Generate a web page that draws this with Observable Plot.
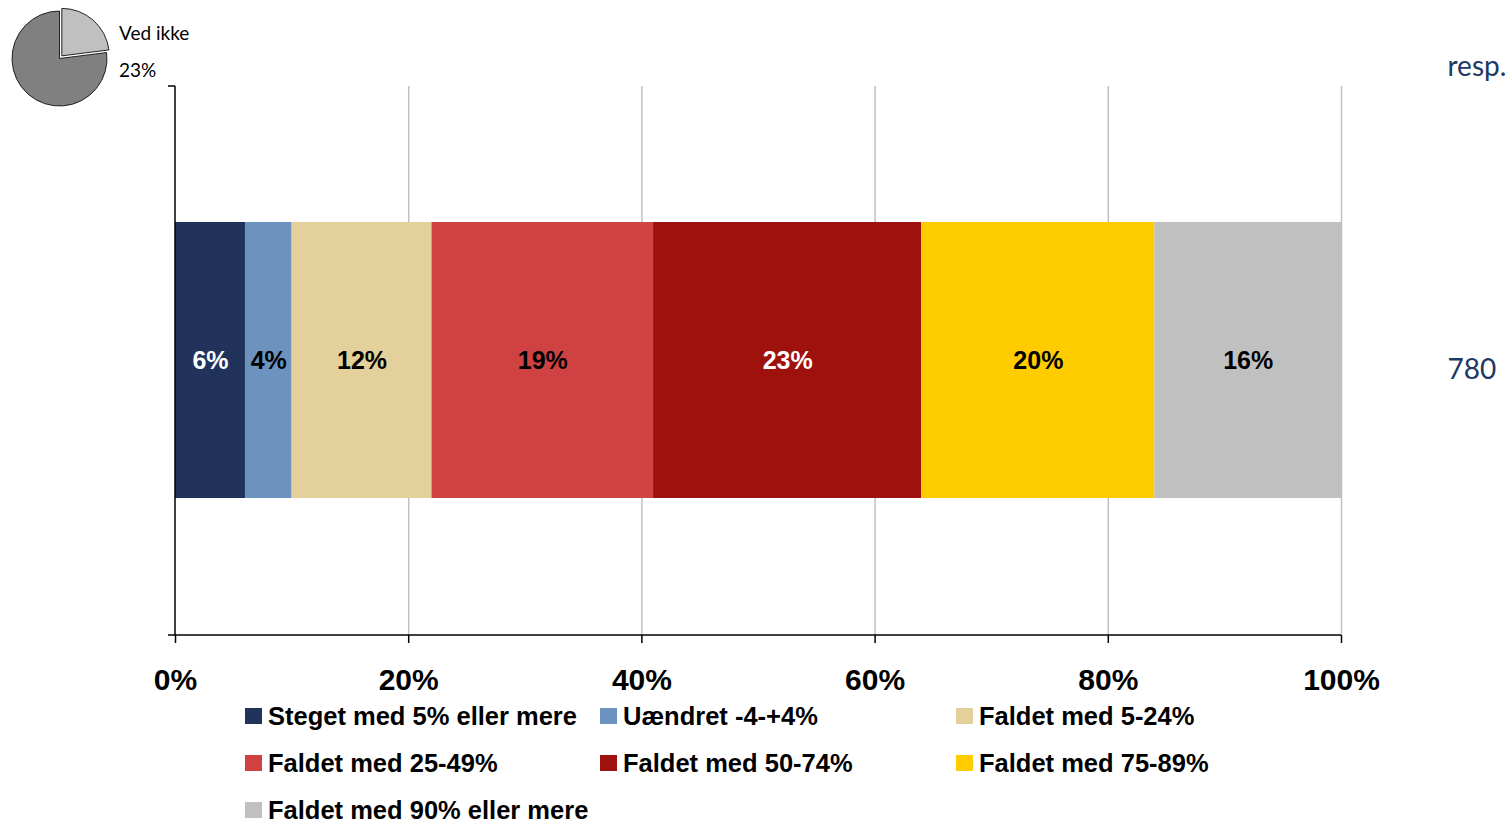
<!DOCTYPE html>
<html><head><meta charset="utf-8">
<script src="https://cdn.jsdelivr.net/npm/d3@7"></script>
<script src="https://cdn.jsdelivr.net/npm/@observablehq/plot@0.6"></script>
<style>
body{margin:0;background:#fff;width:1511px;height:821px;position:relative;overflow:hidden;font-family:Arial,"Liberation Sans",sans-serif}
#chart{position:absolute;left:0;top:0}
#pie{position:absolute;left:0;top:0}
#legend{position:absolute;left:245px;top:692.5px;display:grid;grid-template-columns:355px 356px 356px}
.item{display:flex;align-items:center;height:47px;font-weight:bold;font-size:25.5px;color:#000;white-space:nowrap}
.sw{width:17px;height:16px;margin-right:6px;flex:none}
</style></head><body>
<div id="chart"></div>
<div id="pie"></div>
<div id="legend"></div>
<script>
// ---- data ----
const categories = ["Steget med 5% eller mere","Uændret -4-+4%","Faldet med 5-24%","Faldet med 25-49%","Faldet med 50-74%","Faldet med 75-89%","Faldet med 90% eller mere"];
const values = [6, 4, 12, 19, 23, 20, 16];
const colors = ["#21335b","#6c93bf","#e3d09a","#d04242","#9e110d","#ffcc00","#c0c0c0"];
const labelColors = ["white","black","black","black","white","black","black"];
const xTicks = [0, 20, 40, 60, 80, 100];
const gridTicks = [20, 40, 60, 80, 100];
const respLabel = "resp.";
const respCount = 780;
const pieLabels = ["Ved ikke", "Svar"];
const pieValues = [23, 77];
const pieColors = ["#c0c0c0", "#808080"];

const rowKey = "alle";
const rows = values.map((v, i) => ({cat: categories[i], value: v, row: rowKey, lc: labelColors[i]}));

function axisLines(index, scales, vals, dim) {
  const {width, height, marginLeft, marginRight, marginTop, marginBottom} = dim;
  const g = d3.create("svg:g").attr("stroke", "#000").attr("stroke-width", 1.5).attr("fill", "none");
  const yb = height - marginBottom, x0 = marginLeft, x1 = width - marginRight;
  g.append("line").attr("x1", x0).attr("x2", x0).attr("y1", marginTop).attr("y2", yb);
  g.append("line").attr("x1", x0 - 7).attr("x2", x1).attr("y1", yb).attr("y2", yb);
  g.append("line").attr("x1", x0 - 7).attr("x2", x0).attr("y1", marginTop).attr("y2", marginTop);
  return g.node();
}

const chart = Plot.plot({
  width: 1511,
  height: 693,
  marginLeft: 175,
  marginRight: 170,
  marginTop: 86,
  marginBottom: 58,
  style: {fontFamily: "Arial, 'Liberation Sans', sans-serif", background: "transparent", overflow: "visible"},
  x: {domain: [0, 100], axis: null, label: null},
  y: {domain: [rowKey], axis: null, padding: 0.33},
  color: {domain: categories, range: colors},
  marks: [
    Plot.gridX(gridTicks, {stroke: "#c0c0c0", strokeOpacity: 1, strokeWidth: 1.5}),
    Plot.barX(rows, Plot.stackX({x: "value", y: "row", fill: "cat"})),
    Plot.text(rows, Plot.stackX({x: "value", y: "row", text: d => d.value + "%", fill: "lc", fontSize: 25, fontWeight: "bold", dy: 0})),
    Plot.text([respCount], {x: 100, y: [rowKey], text: d => String(d), textAnchor: "start", dx: 106, dy: 10, fontSize: 28, fill: "#203864", fontFamily: "Lato, 'Open Sans', sans-serif"}),
    Plot.text([respLabel], {frameAnchor: "top-right", text: d => d, textAnchor: "start", dx: 106, dy: -30, fontSize: 28, fill: "#203864", fontFamily: "Lato, 'Open Sans', sans-serif"}),
    Plot.axisX({ticks: xTicks, tickFormat: d => d + "%", label: null, tickSize: 8, tickPadding: 25, fontSize: 30, fontWeight: "bold", stroke: "#000", strokeWidth: 1.5, fill: "#000"}),
    axisLines
  ]
});
document.getElementById("chart").appendChild(chart);

// ---- pie ----
const pieSvg = d3.select("#pie").append("svg").attr("width", 220).attr("height", 115);
const pcx = 59.5, pcy = 58.5, pr = 47.5;
const arcs = d3.pie().sort(null)(pieValues);
const arcGen = d3.arc().innerRadius(0).outerRadius(pr);
arcs.forEach((a, i) => {
  const mid = (a.startAngle + a.endAngle) / 2;
  const off = i === 0 ? 3.5 : 0;
  pieSvg.append("path")
    .attr("d", arcGen(a))
    .attr("transform", `translate(${pcx + Math.sin(mid) * off},${pcy - Math.cos(mid) * off})`)
    .attr("fill", pieColors[i])
    .attr("stroke", "#222")
    .attr("stroke-width", 1);
});
pieSvg.append("text").attr("x", 119).attr("y", 40).attr("font-size", 19).attr("font-family", "Lato, 'Open Sans', sans-serif").text(pieLabels[0]);
pieSvg.append("text").attr("x", 119).attr("y", 77).attr("font-size", 19).attr("font-family", "Lato, 'Open Sans', sans-serif").text(pieValues[0] + "%");

// ---- legend ----
const leg = document.getElementById("legend");
categories.forEach((c, i) => {
  const it = document.createElement("div");
  it.className = "item";
  const sw = document.createElement("span");
  sw.className = "sw";
  sw.style.background = colors[i];
  it.appendChild(sw);
  it.appendChild(document.createTextNode(c));
  leg.appendChild(it);
});
</script>
</body></html>
